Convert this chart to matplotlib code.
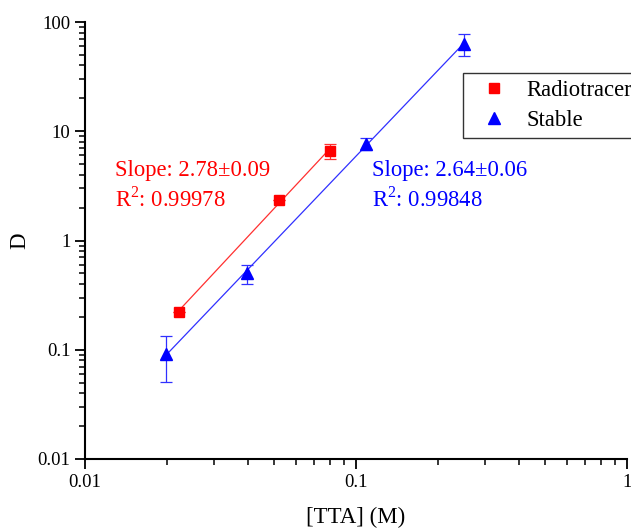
import numpy as np
import matplotlib.pyplot as plt
from matplotlib.lines import Line2D

# data
radio_x = [0.0222, 0.052, 0.080]
radio_y = [0.223, 2.35, 6.6]
radio_err = [0.0, 0.0, 1.05]

stable_x = [0.0199, 0.0395, 0.1086, 0.251]
stable_y = [0.0915, 0.50, 7.7, 63.5]
stable_err = [0.041, 0.10, 1.0, 14.5]

radio_text = ["Slope: 2.78\u00b10.09", "R$^2$: 0.99978"]
stable_text = ["Slope: 2.64\u00b10.06", "R$^2$: 0.99848"]

plt.rcParams['font.family'] = ['Liberation Serif', 'DejaVu Serif']
plt.rcParams['mathtext.fontset'] = 'custom'
plt.rcParams['mathtext.rm'] = 'Liberation Serif'

fig = plt.figure(figsize=(6.31, 5.28), dpi=100)
ax = fig.add_axes([0.1347, 0.1307, 0.859, 0.8276])


def fit_line(x, y):
    lx, ly = np.log10(x), np.log10(y)
    p = np.polyfit(lx, ly, 1)
    xs = np.array([min(x), max(x)])
    return xs, 10 ** np.polyval(p, np.log10(xs))


fx, fy = fit_line(radio_x, radio_y)
ax.plot(fx, fy, color='#ff3030', linewidth=0.9)
fx, fy = fit_line(stable_x, stable_y)
ax.plot(fx, fy, color='#3030ff', linewidth=0.9)

ax.errorbar(radio_x, radio_y, yerr=radio_err, fmt='s', color='red', ms=7,
            ecolor='#ff3030', elinewidth=0.9, capsize=4, capthick=0.9)
ax.errorbar(stable_x, stable_y, yerr=stable_err, fmt='^', color='blue', ms=9,
            ecolor='#3030ff', elinewidth=0.9, capsize=4, capthick=0.9)

ax.set_xscale('log')
ax.set_yscale('log')
ax.set_xlim(0.01, 1)
ax.set_ylim(0.01, 100)
ax.set_xticks([0.01, 0.1, 1])
ax.set_xticklabels(['0.01', '0.1', '1'])
ax.set_yticks([0.01, 0.1, 1, 10, 100])
ax.set_yticklabels(['0.01', '0.1', '1', '10', '100'])

for s in ['top', 'right']:
    ax.spines[s].set_visible(False)
for s in ['left', 'bottom']:
    ax.spines[s].set_linewidth(1.5)
ax.tick_params(which='major', direction='out', length=7, width=1.3,
               labelsize=13.5)
ax.tick_params(which='minor', direction='out', length=4, width=1.1)

ax.set_xlabel('[TTA] (M)', fontsize=16.5, labelpad=12)
ax.set_ylabel('D', fontsize=16.5, labelpad=5)

ax.text(0.0129, 3.15, '\n'.join(radio_text), color='red', fontsize=16.3,
        linespacing=1.3, va='center', ha='left')
ax.text(0.1143, 3.15, '\n'.join(stable_text), color='blue', fontsize=16.3,
        linespacing=1.3, va='center', ha='left')

handles = [Line2D([], [], marker='s', color='red', ms=7, linestyle='none'),
           Line2D([], [], marker='^', color='blue', ms=9, linestyle='none')]
leg = ax.legend(handles, ['Radiotracer', 'Stable'], loc='upper left',
                bbox_to_anchor=(462.7 / 631, 1 - 73 / 528),
                bbox_transform=fig.transFigure, borderaxespad=0,
                fontsize=16.3, frameon=True, fancybox=False,
                edgecolor='black', handletextpad=0.3, borderpad=0.3,
                labelspacing=0.4, handlelength=2.2)
leg.get_frame().set_linewidth(1.0)

fig.savefig('out.png', dpi=100)
